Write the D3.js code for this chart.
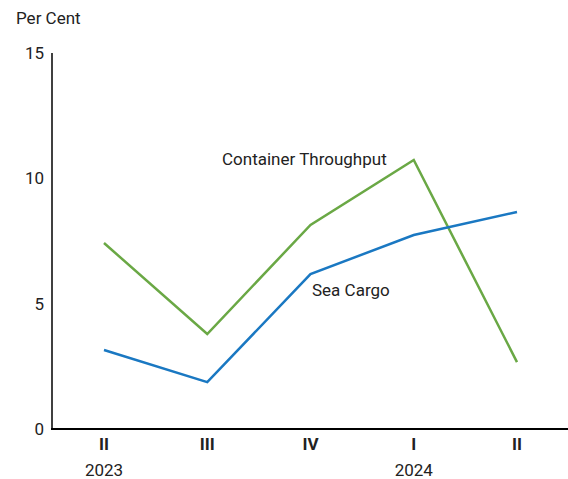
<!DOCTYPE html>
<html><head><meta charset="utf-8">
<script src="https://cdn.jsdelivr.net/npm/d3@7"></script>
<style>body{margin:0;background:#fff}svg{display:block}</style>
</head><body>
<svg id="c" width="568" height="479"></svg>
<script>
const quarters = ["II","III","IV","I","II"];
const years = ["2023","","","2024",""];
const containerThroughput = [7.42, 3.79, 8.14, 10.73, 2.67];
const seaCargo = [3.15, 1.87, 6.18, 7.74, 8.66];
const yTicks = [0,5,10,15];

const svg = d3.select("#c");
const font = "Roboto, 'Noto Sans', sans-serif";
const fs = 17;
const x = d3.scalePoint().domain(d3.range(quarters.length)).range([104,517]);
const y = d3.scaleLinear().domain([0,15]).range([429,53]);

// axes
svg.append("line").attr("x1",52).attr("x2",52).attr("y1",y(15)).attr("y2",y(0)+1)
  .attr("stroke","#000").attr("stroke-width",1.5);
svg.append("line").attr("x1",51).attr("x2",568).attr("y1",y(0)).attr("y2",y(0))
  .attr("stroke","#000").attr("stroke-width",2);

svg.append("g").selectAll("text").data(yTicks).join("text")
  .attr("x",44).attr("y",d=>y(d)).attr("dy","0.35em").attr("text-anchor","end")
  .attr("font-family",font).attr("font-size",fs).attr("fill","#222").text(d=>d);

svg.append("text").attr("x",16).attr("y",24).attr("font-family",font).attr("font-size",fs)
  .attr("fill","#222").text("Per Cent");

svg.append("g").selectAll("text").data(quarters).join("text")
  .attr("x",(d,i)=>x(i)).attr("y",450).attr("text-anchor","middle")
  .attr("font-family",font).attr("font-size",fs).attr("font-weight","bold").attr("fill","#222").text(d=>d);
svg.append("g").selectAll("text").data(years).join("text")
  .attr("x",(d,i)=>x(i)).attr("y",476).attr("text-anchor","middle")
  .attr("font-family",font).attr("font-size",fs).attr("fill","#222").text(d=>d);

const line = d3.line().x((d,i)=>x(i)).y(d=>y(d));
svg.append("path").datum(containerThroughput).attr("d",line).attr("fill","none")
  .attr("stroke","#6aa845").attr("stroke-width",2.5);
svg.append("path").datum(seaCargo).attr("d",line).attr("fill","none")
  .attr("stroke","#1a78c2").attr("stroke-width",2.5);

svg.append("text").attr("x",222).attr("y",165).attr("font-family",font).attr("font-size",fs)
  .attr("fill","#222").text("Container Throughput");
svg.append("text").attr("x",312).attr("y",296).attr("font-family",font).attr("font-size",fs)
  .attr("fill","#222").text("Sea Cargo");
</script>
</body></html>
